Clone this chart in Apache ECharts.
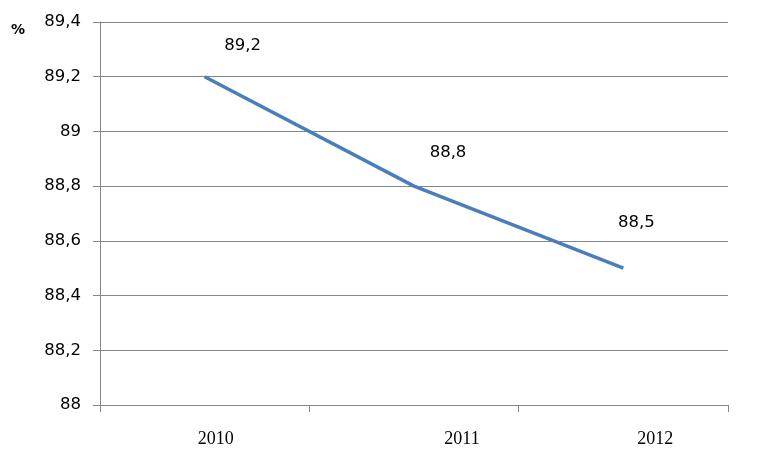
<!DOCTYPE html>
<html><head><meta charset="utf-8">
<script src="https://cdn.jsdelivr.net/npm/echarts@6/dist/echarts.min.js"></script>
<style>html,body{margin:0;padding:0;background:#fff}#c{width:767px;height:457px}</style>
</head><body><div id="c"></div>
<script>
const categories = ['2010', '2011', '2012'];
const values = [89.2, 88.8, 88.5];
const yMin = 88, yMax = 89.4, yStep = 0.2;
const unit = '%';

const labelOffsets = [[38, -2], [34, -4], [13, -16]];
const catPad = [[0,0,0,22],[0,0,0,96],[0,0,0,64]];

const chart = echarts.init(document.getElementById('c'), null, {renderer: 'canvas'});
const fmt = v => String(Math.round(v * 10) / 10).replace('.', ',');
const rich = {};
categories.forEach((c, i) => { rich['c' + i] = {padding: catPad[i], fontFamily: '"Liberation Serif", "Times New Roman", serif', fontSize: 18, color: '#000'}; });

chart.setOption({
  animation: false,
  grid: {left: 100, right: 39, top: 22, bottom: 52},
  graphic: [{type: 'text', left: 11, top: 23, style: {text: unit, font: 'bold 14px "DejaVu Sans", sans-serif', fill: '#000'}}],
  xAxis: {
    type: 'category', data: categories, boundaryGap: true,
    axisLine: {lineStyle: {color: '#868686', width: 1}},
    axisTick: {show: true, length: 7, lineStyle: {color: '#868686'}, alignWithLabel: false},
    axisLabel: {margin: 25, formatter: (v, i) => '{c' + i + '|' + v + '}', rich: rich}
  },
  yAxis: {
    type: 'value', min: yMin, max: yMax, interval: yStep,
    axisLine: {show: true, lineStyle: {color: '#868686', width: 1}},
    axisTick: {show: true, length: 7, lineStyle: {color: '#868686'}},
    axisLabel: {formatter: fmt, margin: 19, fontFamily: '"DejaVu Sans", sans-serif', fontSize: 16.5, color: '#000'},
    splitLine: {lineStyle: {color: '#868686', width: 1}}
  },
  series: [{
    type: 'line',
    data: values,
    symbol: 'none',
    lineStyle: {color: '#4A7EBB', width: 3.5}
  }, {
    type: 'scatter',
    data: values.map((v, i) => ({value: v, label: {offset: labelOffsets[i]}})),
    symbolSize: 1,
    itemStyle: {color: 'rgba(0,0,0,0)', opacity: 1},
    z: 5,
    label: {show: true, position: 'top', distance: 20, formatter: p => fmt(p.value), fontFamily: '"DejaVu Sans", sans-serif', fontSize: 16.5, color: '#000'}
  }]
});
</script></body></html>
